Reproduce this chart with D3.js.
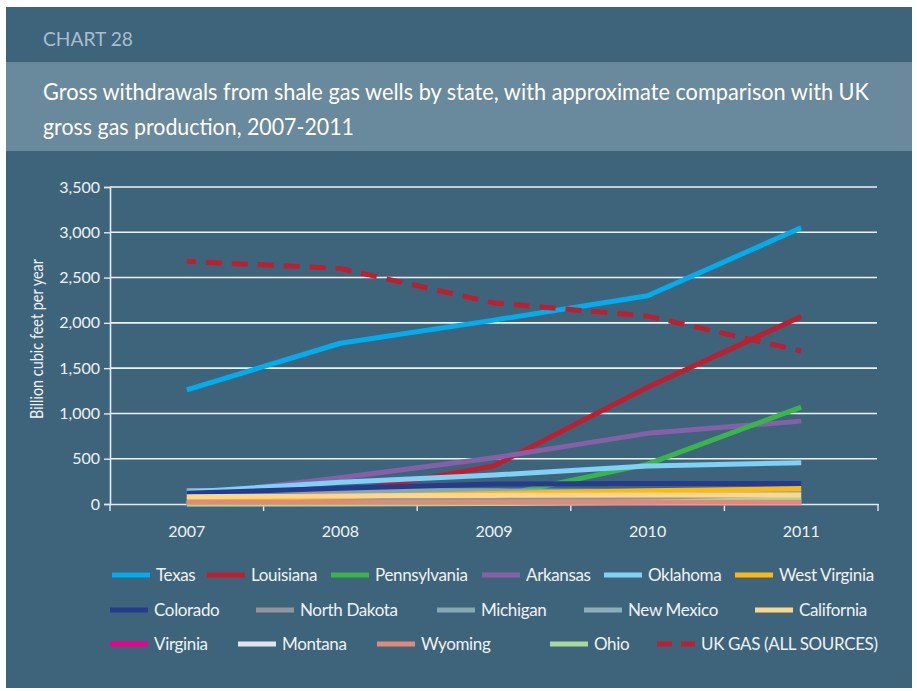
<!DOCTYPE html>
<html><head><meta charset="utf-8">
<script src="https://cdn.jsdelivr.net/npm/d3@7/dist/d3.min.js"></script>
<style>
html,body{margin:0;padding:0;background:#fff;}
svg{display:block;}
text{font-family:Lato,"Open Sans",sans-serif;}
</style></head>
<body>
<svg id="chart" width="917" height="691"></svg>
<script>
const years = ["2007","2008","2009","2010","2011"];
const yTicks = [0,500,1000,1500,2000,2500,3000,3500];

const seriesNames = ["Texas","Louisiana","Pennsylvania","Arkansas","Oklahoma","West Virginia",
  "Colorado","North Dakota","Michigan","New Mexico","California",
  "Virginia","Montana","Wyoming","Ohio","UK GAS (ALL SOURCES)"];
const seriesColors = ["#00aeef","#be1e2d","#39b54a","#8560a8","#7fd1f7","#fdb913",
  "#253b8e","#939598","#87a8b0","#8fadb5","#fdd68e",
  "#ec008c","#dfe5e9","#e08a78","#a8d89c","#be1e2d"];

const texas        = [1260,1775,2030,2300,3050];
const louisiana    = [10,120,420,1290,2070];
const pennsylvania = [1,5,80,440,1070];
const arkansas     = [95,290,510,780,915];
const oklahoma     = [130,240,320,420,455];
const westVirginia = [50,80,115,145,170];
const colorado     = [120,175,220,225,225];
const northDakota  = [10,30,50,60,70];
const michigan     = [150,150,145,140,135];
const newMexico    = [10,15,20,25,30];
const california   = [80,90,95,100,100];
const virginia     = [5,5,10,10,10];
const montana      = [10,12,13,13,13];
const wyoming      = [20,20,20,20,20];
const ohio         = [0,0,5,20,55];
const ukGas        = [2680,2600,2220,2075,1690];

const seriesValues = [texas,louisiana,pennsylvania,arkansas,oklahoma,westVirginia,
  colorado,northDakota,michigan,newMexico,california,virginia,montana,wyoming,ohio,ukGas];

// draw order (last on top)
const drawOrder = ["Texas","Louisiana","Arkansas","Pennsylvania","North Dakota","New Mexico","Virginia","Montana",
  "Michigan","Oklahoma","Colorado","West Virginia","Ohio","California","Wyoming","UK GAS (ALL SOURCES)"];

const svg = d3.select("#chart");
const darkBg = "#3e647c", lightBg = "#69899c";

// panels
svg.append("rect").attr("x",6).attr("y",7).attr("width",906).attr("height",681).attr("fill",darkBg);
svg.append("rect").attr("x",6).attr("y",62).attr("width",906).attr("height",89).attr("fill",lightBg);

svg.append("text").attr("x",43).attr("y",46).attr("fill","#a8bfcc").attr("font-size",20)
  .attr("textLength",90).attr("lengthAdjust","spacingAndGlyphs").text("CHART 28");
svg.append("text").attr("x",43).attr("y",100).attr("fill","#ffffff").attr("font-size",23)
  .attr("textLength",826).attr("lengthAdjust","spacingAndGlyphs")
  .text("Gross withdrawals from shale gas wells by state, with approximate comparison with UK");
svg.append("text").attr("x",43).attr("y",135).attr("fill","#ffffff").attr("font-size",23)
  .attr("textLength",311).attr("lengthAdjust","spacingAndGlyphs")
  .text("gross gas production, 2007-2011");

const x = d3.scaleBand().domain(years).range([110,878]);
const y = d3.scaleLinear().domain([0,3500]).range([504,187]);
const axisColor = "#e3e9ed";

// gridlines
svg.append("g").selectAll("line").data(yTicks.filter(d=>d>0)).join("line")
  .attr("x1",110).attr("x2",877).attr("y1",d=>y(d)).attr("y2",d=>y(d))
  .attr("stroke","#eef2f4").attr("stroke-width",1.6);

// y axis
const gy = svg.append("g").attr("transform","translate(110,0)")
  .call(d3.axisLeft(y).tickValues(yTicks).tickFormat(d3.format(",")).tickSize(6).tickPadding(4));
gy.select(".domain").attr("stroke",axisColor).attr("stroke-width",1.6);
gy.selectAll(".tick line").attr("stroke",axisColor).attr("stroke-width",1.4);
gy.selectAll("text").attr("fill","#eef2f4").attr("font-size",16).attr("font-family","Lato,sans-serif");

// x axis
const gx = svg.append("g").attr("transform","translate(0,504)")
  .call(d3.axisBottom(x).tickSize(0).tickPadding(22));
gx.select(".domain").attr("stroke",axisColor).attr("stroke-width",1.6);
gx.selectAll("text").attr("fill","#eef2f4").attr("font-size",16).attr("font-family","Lato,sans-serif");
const edges = years.map(d=>x(d)).concat([x.range()[1]]);
gx.selectAll(".edge").data(edges).join("line").attr("class","edge")
  .attr("x1",d=>d).attr("x2",d=>d).attr("y1",0).attr("y2",7)
  .attr("stroke",axisColor).attr("stroke-width",1.4);

// y title
svg.append("text").attr("transform","translate(43,339) rotate(-90)").attr("text-anchor","middle")
  .attr("fill","#eef2f4").attr("font-size",17).attr("textLength",160).attr("lengthAdjust","spacingAndGlyphs")
  .text("Billion cubic feet per year");

// lines
const line = d3.line().x((d,i)=>x(years[i])+x.bandwidth()/2).y(d=>y(d));
const gl = svg.append("g");
drawOrder.forEach(name=>{
  const i = seriesNames.indexOf(name);
  const uk = name.startsWith("UK");
  gl.append("path").datum(seriesValues[i]).attr("d",line)
    .attr("fill","none").attr("stroke",seriesColors[i]).attr("stroke-width",5)
    .attr("stroke-linejoin","round").attr("stroke-linecap","butt")
    .attr("stroke-dasharray",uk?"16,10":null)
    .attr("stroke-dashoffset",uk?7:null);
});

// legend
const legendRows = [
  {y:575, xs:[112,207,331,482,604,735], names:["Texas","Louisiana","Pennsylvania","Arkansas","Oklahoma","West Virginia"]},
  {y:610, xs:[110,256,437,584,755], names:["Colorado","North Dakota","Michigan","New Mexico","California"]},
  {y:644, xs:[110,238,377,550,657], names:["Virginia","Montana","Wyoming","Ohio","UK GAS (ALL SOURCES)"]}
];
const lg = svg.append("g");
legendRows.forEach(row=>{
  row.names.forEach((name,j)=>{
    const i = seriesNames.indexOf(name);
    const x0 = row.xs[j];
    const uk = name.startsWith("UK");
    lg.append("line").attr("x1",x0).attr("x2",x0+38).attr("y1",row.y).attr("y2",row.y)
      .attr("stroke",seriesColors[i]).attr("stroke-width",5)
      .attr("stroke-dasharray",uk?"15,9":null);
    lg.append("text").attr("x",x0+44).attr("y",row.y+6).attr("fill","#eef2f4")
      .attr("font-size",17).attr("letter-spacing",-0.35).text(name);
  });
});
</script>
</body></html>
